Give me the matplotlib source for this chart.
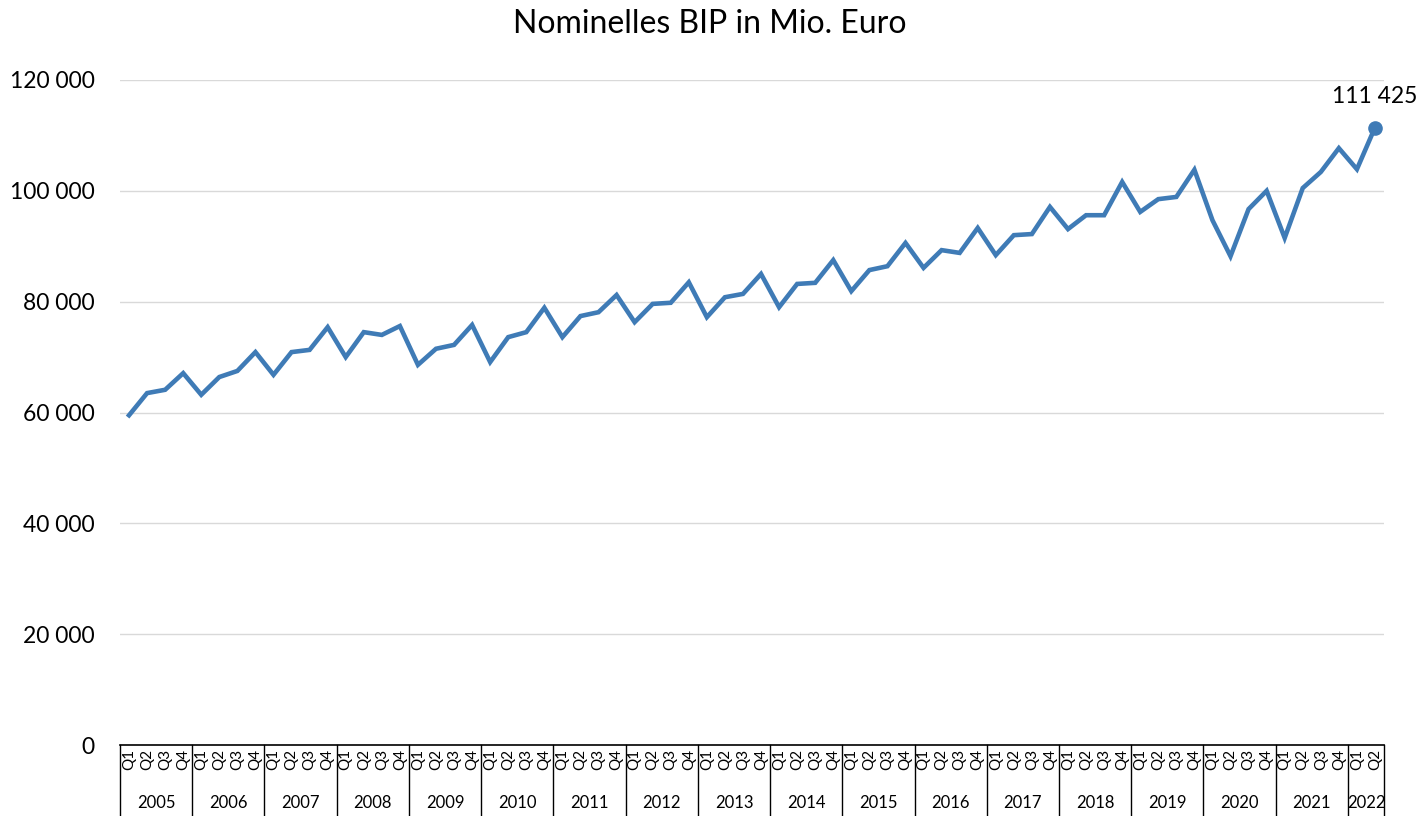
import matplotlib
matplotlib.use("Agg")
import matplotlib.pyplot as plt
from matplotlib.transforms import blended_transform_factory

plt.rcParams['font.family'] = ['Lato', 'DejaVu Sans']

years = [str(y) for y in range(2005, 2023)]
quarters_per_year = [4] * 17 + [2]
values = [
    59.5, 63.5, 64.1, 67.1,
    63.2, 66.4, 67.5, 70.9,
    66.8, 70.9, 71.3, 75.4,
    70.0, 74.5, 74.0, 75.6,
    68.6, 71.5, 72.2, 75.8,
    69.1, 73.6, 74.5, 78.9,
    73.6, 77.4, 78.1, 81.2,
    76.3, 79.6, 79.8, 83.5,
    77.2, 80.8, 81.4, 85.0,
    79.0, 83.2, 83.4, 87.5,
    81.9, 85.7, 86.4, 90.6,
    86.1, 89.3, 88.8, 93.3,
    88.4, 92.0, 92.2, 97.1,
    93.1, 95.6, 95.6, 101.6,
    96.2, 98.5, 98.9, 103.8,
    94.7, 88.2, 96.7, 100.0,
    91.5, 100.5, 103.4, 107.7,
    103.9, 111.425,
]
values = [v * 1000 for v in values]
last_label = "111 425"
title = "Nominelles BIP in Mio. Euro"
yticks = [0, 20000, 40000, 60000, 80000, 100000, 120000]

qlabels = []
for n in quarters_per_year:
    qlabels += [f"Q{i+1}" for i in range(n)]

W, H = 1420, 816
fig = plt.figure(figsize=(W / 100, H / 100), dpi=100)
left, right, top, bottom = 120, 1384, 80, 745
ax = fig.add_axes([left / W, (H - bottom) / H, (right - left) / W, (bottom - top) / H])

color = "#3F7BB6"
x = list(range(len(values)))
ax.plot(x, values, color=color, lw=3.3, solid_joinstyle='miter', zorder=3)
ax.plot([x[-1]], [values[-1]], 'o', color=color, ms=9.5, zorder=4)
ax.annotate(last_label, (x[-1], values[-1]), xytext=(0, 15), textcoords='offset points',
            ha='center', va='bottom', fontsize=16.5)

ax.set_xlim(-0.5, len(values) - 0.5)
ax.set_ylim(0, 120000)
ax.set_yticks(yticks)
ax.set_yticklabels([f"{v:,}".replace(",", " ") for v in yticks], fontsize=16.5)
ax.yaxis.grid(True, color="#D9D9D9", lw=1.0)
ax.set_axisbelow(True)
ax.tick_params(axis='y', length=0, pad=18)

ax.set_xticks(x)
ax.set_xticklabels(qlabels, rotation=90, fontsize=11, va='top')
ax.tick_params(axis='x', length=0, pad=3)

for s in ['left', 'right', 'top']:
    ax.spines[s].set_visible(False)
ax.spines['bottom'].set_color('black')
ax.spines['bottom'].set_linewidth(1.2)

trans = blended_transform_factory(ax.transData, ax.transAxes)
ax_h = bottom - top
sep_bottom = -(H - bottom) / ax_h
year_y = -(803 - bottom) / ax_h
pos = -0.5
boundaries = [pos]
for yr, n in zip(years, quarters_per_year):
    ax.text(pos + n / 2, year_y, yr, transform=trans, ha='center', va='center', fontsize=12)
    pos += n
    boundaries.append(pos)
for b in boundaries:
    ax.plot([b, b], [0, sep_bottom], transform=trans, color='black', lw=1.0, clip_on=False)

fig.text(710 / W, 1 - 24 / H, title, ha='center', va='center', fontsize=23)

fig.savefig("out.png", dpi=100)
